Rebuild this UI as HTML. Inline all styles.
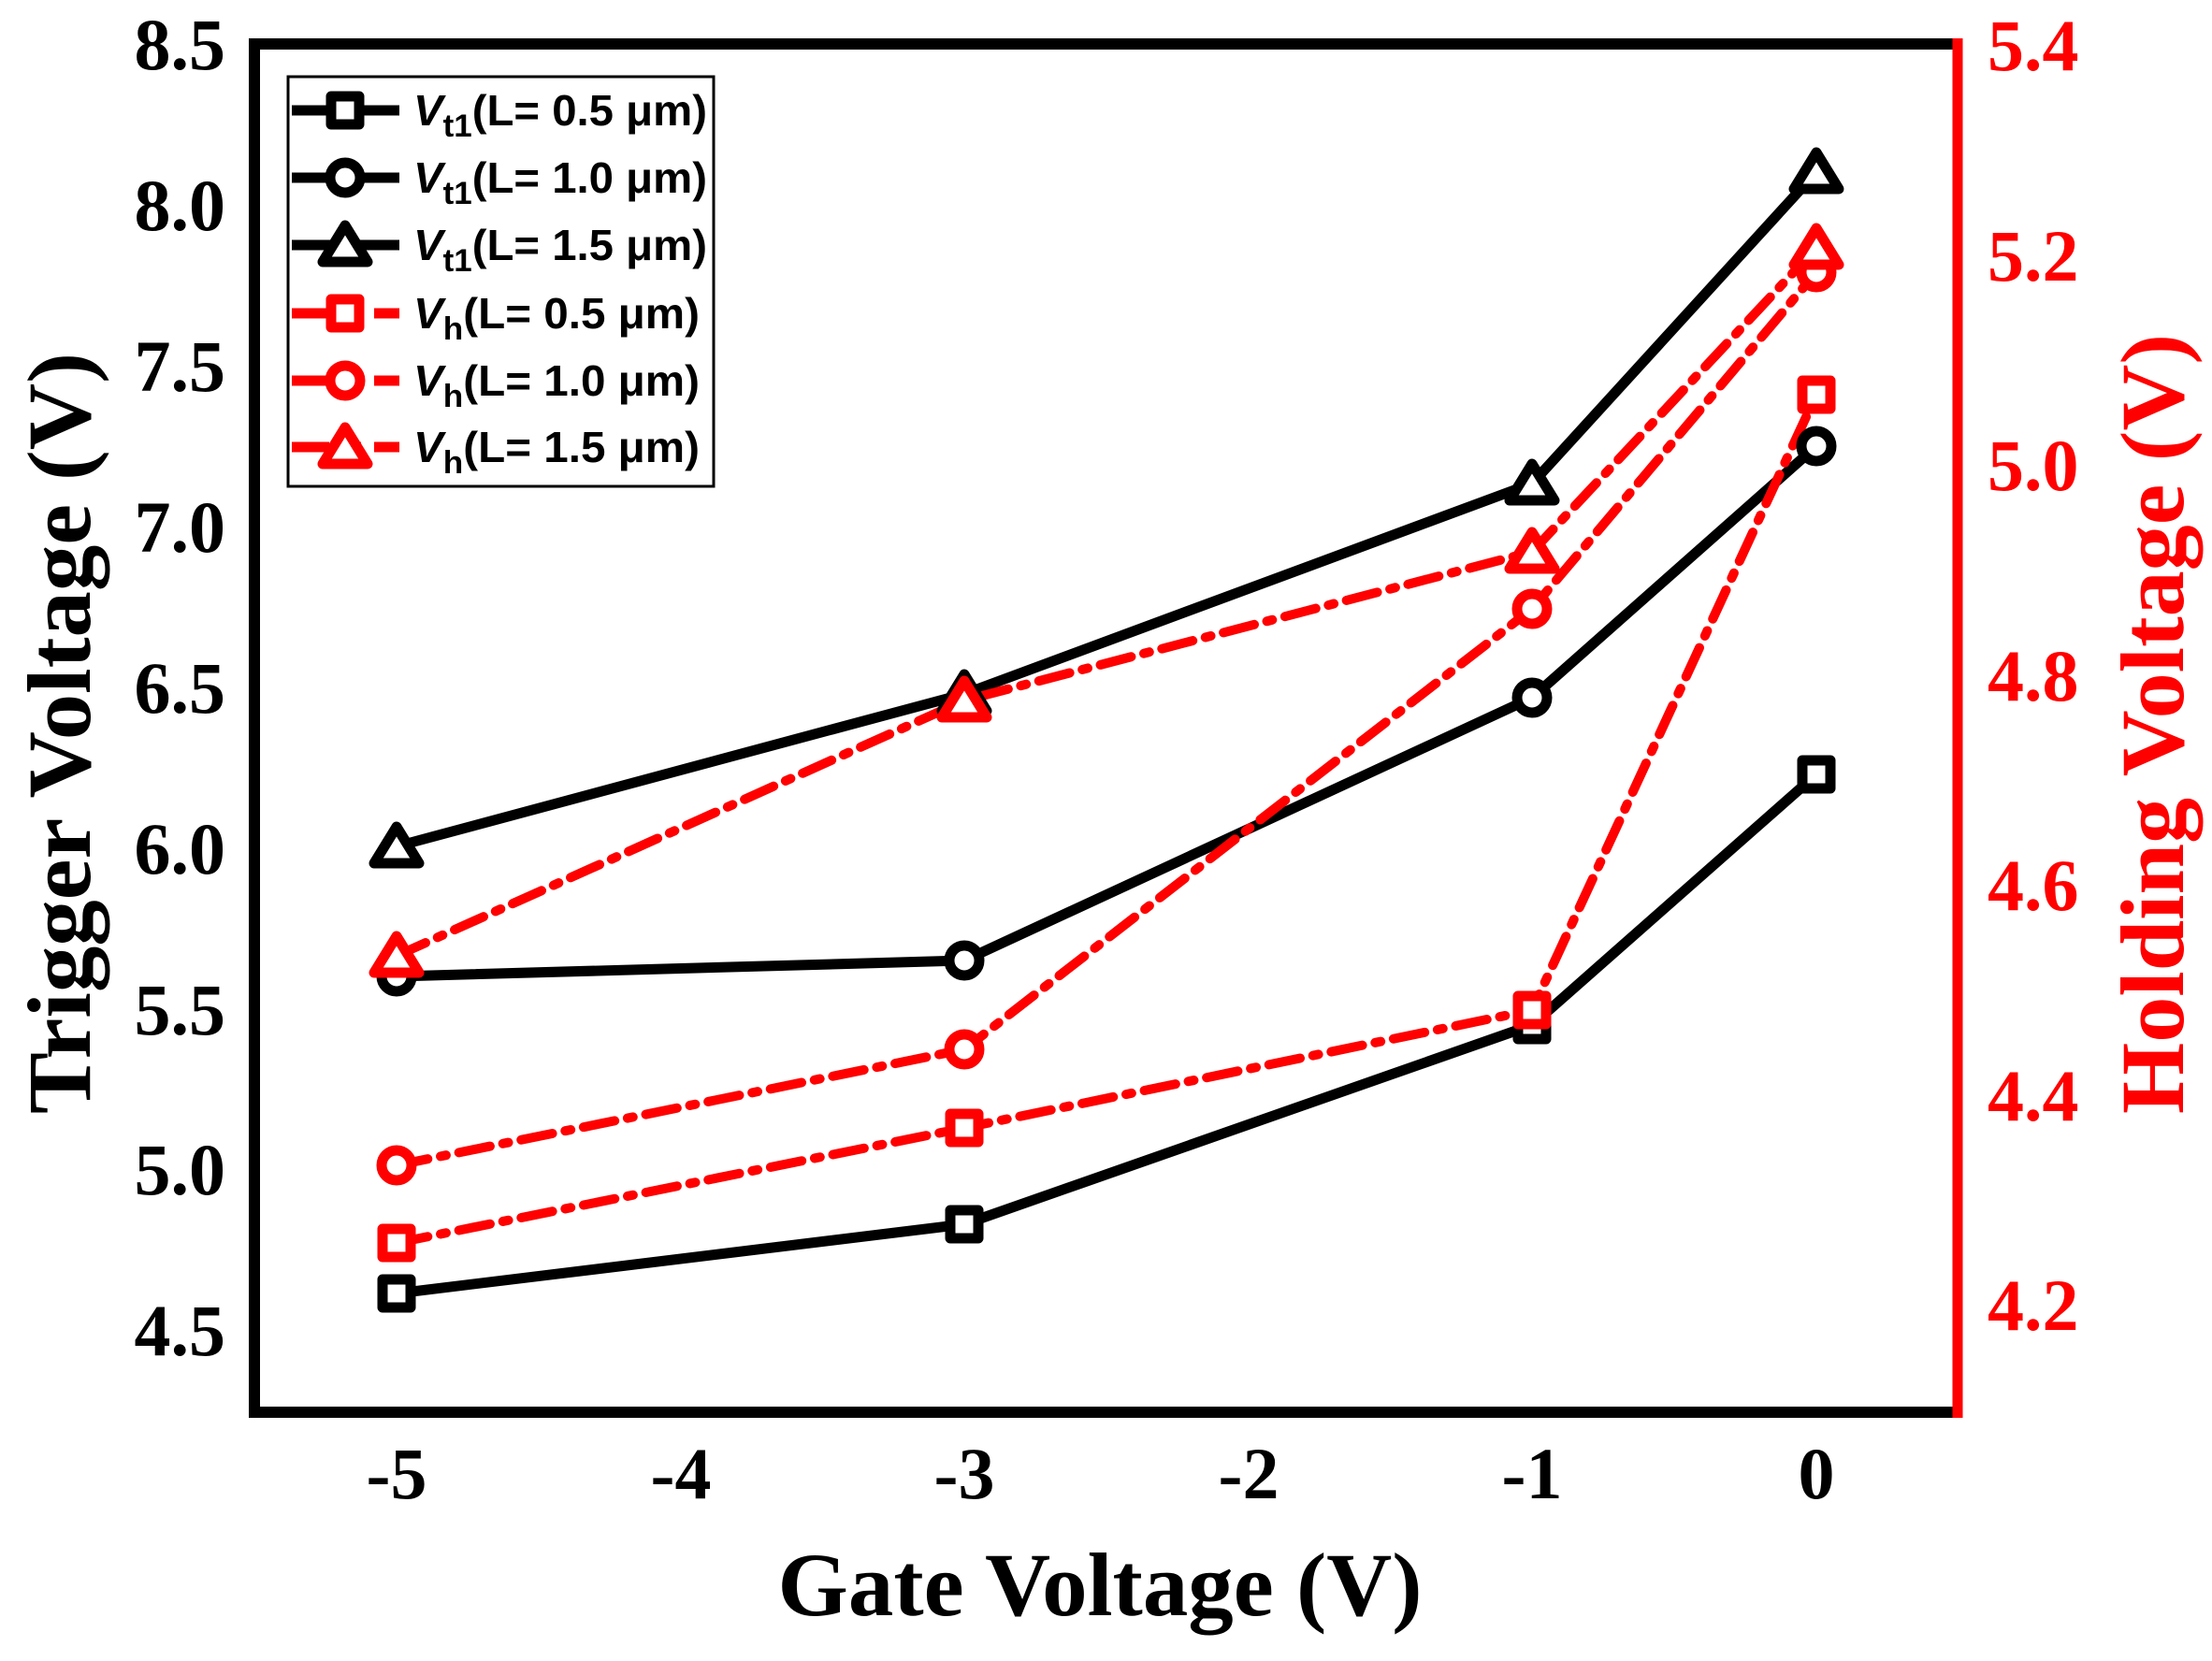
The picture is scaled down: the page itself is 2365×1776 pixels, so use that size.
<!DOCTYPE html>
<html><head><meta charset="utf-8"><style>html,body{margin:0;padding:0;background:#fff}</style></head>
<body>
<svg width="2365" height="1771" viewBox="0 0 2365 1771" xmlns="http://www.w3.org/2000/svg">
<rect width="2365" height="1771" fill="#fff"/>
<!-- frame -->
<polyline points="2093,1510 272,1510 272,47 2093,47" fill="none" stroke="#000" stroke-width="12"/>
<line x1="2093" y1="41" x2="2093" y2="1516" stroke="#f00" stroke-width="11"/>

<!-- left tick labels -->
<g font-family="Liberation Serif, serif" font-weight="bold" font-size="78" text-anchor="end" fill="#000">
<text x="241" y="74">8.5</text>
<text x="241" y="246">8.0</text>
<text x="241" y="418">7.5</text>
<text x="241" y="590">7.0</text>
<text x="241" y="762">6.5</text>
<text x="241" y="934">6.0</text>
<text x="241" y="1106">5.5</text>
<text x="241" y="1277">5.0</text>
<text x="241" y="1449">4.5</text>
</g>
<!-- right tick labels -->
<g font-family="Liberation Serif, serif" font-weight="bold" font-size="78" fill="#f00">
<text x="2125" y="75">5.4</text>
<text x="2125" y="300">5.2</text>
<text x="2125" y="524">5.0</text>
<text x="2125" y="749">4.8</text>
<text x="2125" y="973">4.6</text>
<text x="2125" y="1198">4.4</text>
<text x="2125" y="1422">4.2</text>
</g>
<!-- x tick labels -->
<g font-family="Liberation Serif, serif" font-weight="bold" font-size="78" text-anchor="middle" fill="#000">
<text x="424" y="1602">-5</text>
<text x="728" y="1602">-4</text>
<text x="1031" y="1602">-3</text>
<text x="1335" y="1602">-2</text>
<text x="1638" y="1602">-1</text>
<text x="1942" y="1602">0</text>
</g>
<!-- axis titles -->
<text x="1176" y="1727" font-family="Liberation Serif, serif" font-weight="bold" font-size="96" text-anchor="middle" textLength="689" lengthAdjust="spacingAndGlyphs">Gate Voltage (V)</text>
<text transform="translate(96,784) rotate(-90)" font-family="Liberation Serif, serif" font-weight="bold" font-size="96" text-anchor="middle" textLength="814" lengthAdjust="spacingAndGlyphs">Trigger Voltage (V)</text>
<text transform="translate(2334,774) rotate(-90)" font-family="Liberation Serif, serif" font-weight="bold" font-size="96" text-anchor="middle" fill="#f00" textLength="834" lengthAdjust="spacingAndGlyphs">Holding Voltage (V)</text>

<!-- black solid series -->
<g fill="none" stroke="#000" stroke-width="11" stroke-linejoin="round">
<polyline points="424,1383 1031,1309 1638,1096 1942,828"/>
<polyline points="424,1044 1031,1027 1638,746 1942,477"/>
<polyline points="424,905 1031,742 1638,517 1942,184"/>
</g>
<!-- red dash-dot series -->
<g fill="none" stroke="#f00" stroke-width="10" stroke-dasharray="34,14,6,14" stroke-linecap="round">
<polyline points="424,1329 1031,1206 1638,1080 1942,422"/>
<polyline points="424,1246 1031,1122 1638,651 1942,291"/>
<polyline points="424,1022 1031,749 1638,590 1942,265"/>
</g>
<!-- black markers -->
<g fill="#fff" stroke="#000" stroke-width="11" stroke-linejoin="round">
<rect x="409" y="1368" width="30" height="30"/><rect x="1016" y="1294" width="30" height="30"/><rect x="1623" y="1081" width="30" height="30"/><rect x="1927" y="813" width="30" height="30"/>
<circle cx="424" cy="1044" r="16"/><circle cx="1031" cy="1027" r="16"/><circle cx="1638" cy="746" r="16"/><circle cx="1942" cy="477" r="16"/>
<polygon points="424,884 448,923 400,923"/><polygon points="1031,721 1055,760 1007,760"/><polygon points="1638,496 1662,535 1614,535"/><polygon points="1942,163 1966,202 1918,202"/>
</g>
<!-- red markers -->
<g fill="#fff" stroke="#f00" stroke-width="11" stroke-linejoin="round">
<rect x="409" y="1314" width="30" height="30"/><rect x="1016" y="1191" width="30" height="30"/><rect x="1623" y="1065" width="30" height="30"/><rect x="1927" y="407" width="30" height="30"/>
<circle cx="424" cy="1246" r="16"/><circle cx="1031" cy="1122" r="16"/><circle cx="1638" cy="651" r="16"/><circle cx="1942" cy="291" r="16"/>
<polygon points="424,1001 448,1040 400,1040"/><polygon points="1031,728 1055,767 1007,767"/><polygon points="1638,569 1662,608 1614,608"/><polygon points="1942,244 1966,283 1918,283"/>
</g>

<!-- legend -->
<rect x="308" y="82" width="455" height="438" fill="#fff" stroke="#000" stroke-width="3"/>
<g stroke-width="11" fill="#fff" stroke-linejoin="round">
<line x1="312" y1="118" x2="427" y2="118" stroke="#000"/><rect x="354" y="103" width="30" height="30" stroke="#000"/>
<line x1="312" y1="190" x2="427" y2="190" stroke="#000"/><circle cx="369" cy="190" r="16" stroke="#000"/>
<line x1="312" y1="262" x2="427" y2="262" stroke="#000"/><polygon points="369,241 393,280 345,280" stroke="#000"/>
<line x1="312" y1="335" x2="427" y2="335" stroke="#f00" stroke-dasharray="40,14,20,14"/><rect x="354" y="320" width="30" height="30" stroke="#f00"/>
<line x1="312" y1="407" x2="427" y2="407" stroke="#f00" stroke-dasharray="40,14,20,14"/><circle cx="369" cy="407" r="16" stroke="#f00"/>
<line x1="312" y1="478" x2="427" y2="478" stroke="#f00" stroke-dasharray="40,14,20,14"/><polygon points="369,457 393,496 345,496" stroke="#f00"/>
</g>
<g font-family="Liberation Sans, sans-serif" font-weight="bold" font-size="46" fill="#000">
<text x="442" y="134" textLength="314" lengthAdjust="spacingAndGlyphs"><tspan font-style="italic">V</tspan><tspan font-size="34" dy="12">t1</tspan><tspan dy="-12">(L= 0.5 μm)</tspan></text>
<text x="442" y="206" textLength="314" lengthAdjust="spacingAndGlyphs"><tspan font-style="italic">V</tspan><tspan font-size="34" dy="12">t1</tspan><tspan dy="-12">(L= 1.0 μm)</tspan></text>
<text x="442" y="278" textLength="314" lengthAdjust="spacingAndGlyphs"><tspan font-style="italic">V</tspan><tspan font-size="34" dy="12">t1</tspan><tspan dy="-12">(L= 1.5 μm)</tspan></text>
<text x="442" y="351" textLength="306" lengthAdjust="spacingAndGlyphs"><tspan font-style="italic">V</tspan><tspan font-size="34" dy="12">h</tspan><tspan dy="-12">(L= 0.5 μm)</tspan></text>
<text x="442" y="423" textLength="306" lengthAdjust="spacingAndGlyphs"><tspan font-style="italic">V</tspan><tspan font-size="34" dy="12">h</tspan><tspan dy="-12">(L= 1.0 μm)</tspan></text>
<text x="442" y="494" textLength="306" lengthAdjust="spacingAndGlyphs"><tspan font-style="italic">V</tspan><tspan font-size="34" dy="12">h</tspan><tspan dy="-12">(L= 1.5 μm)</tspan></text>
</g>
</svg>
</body></html>
